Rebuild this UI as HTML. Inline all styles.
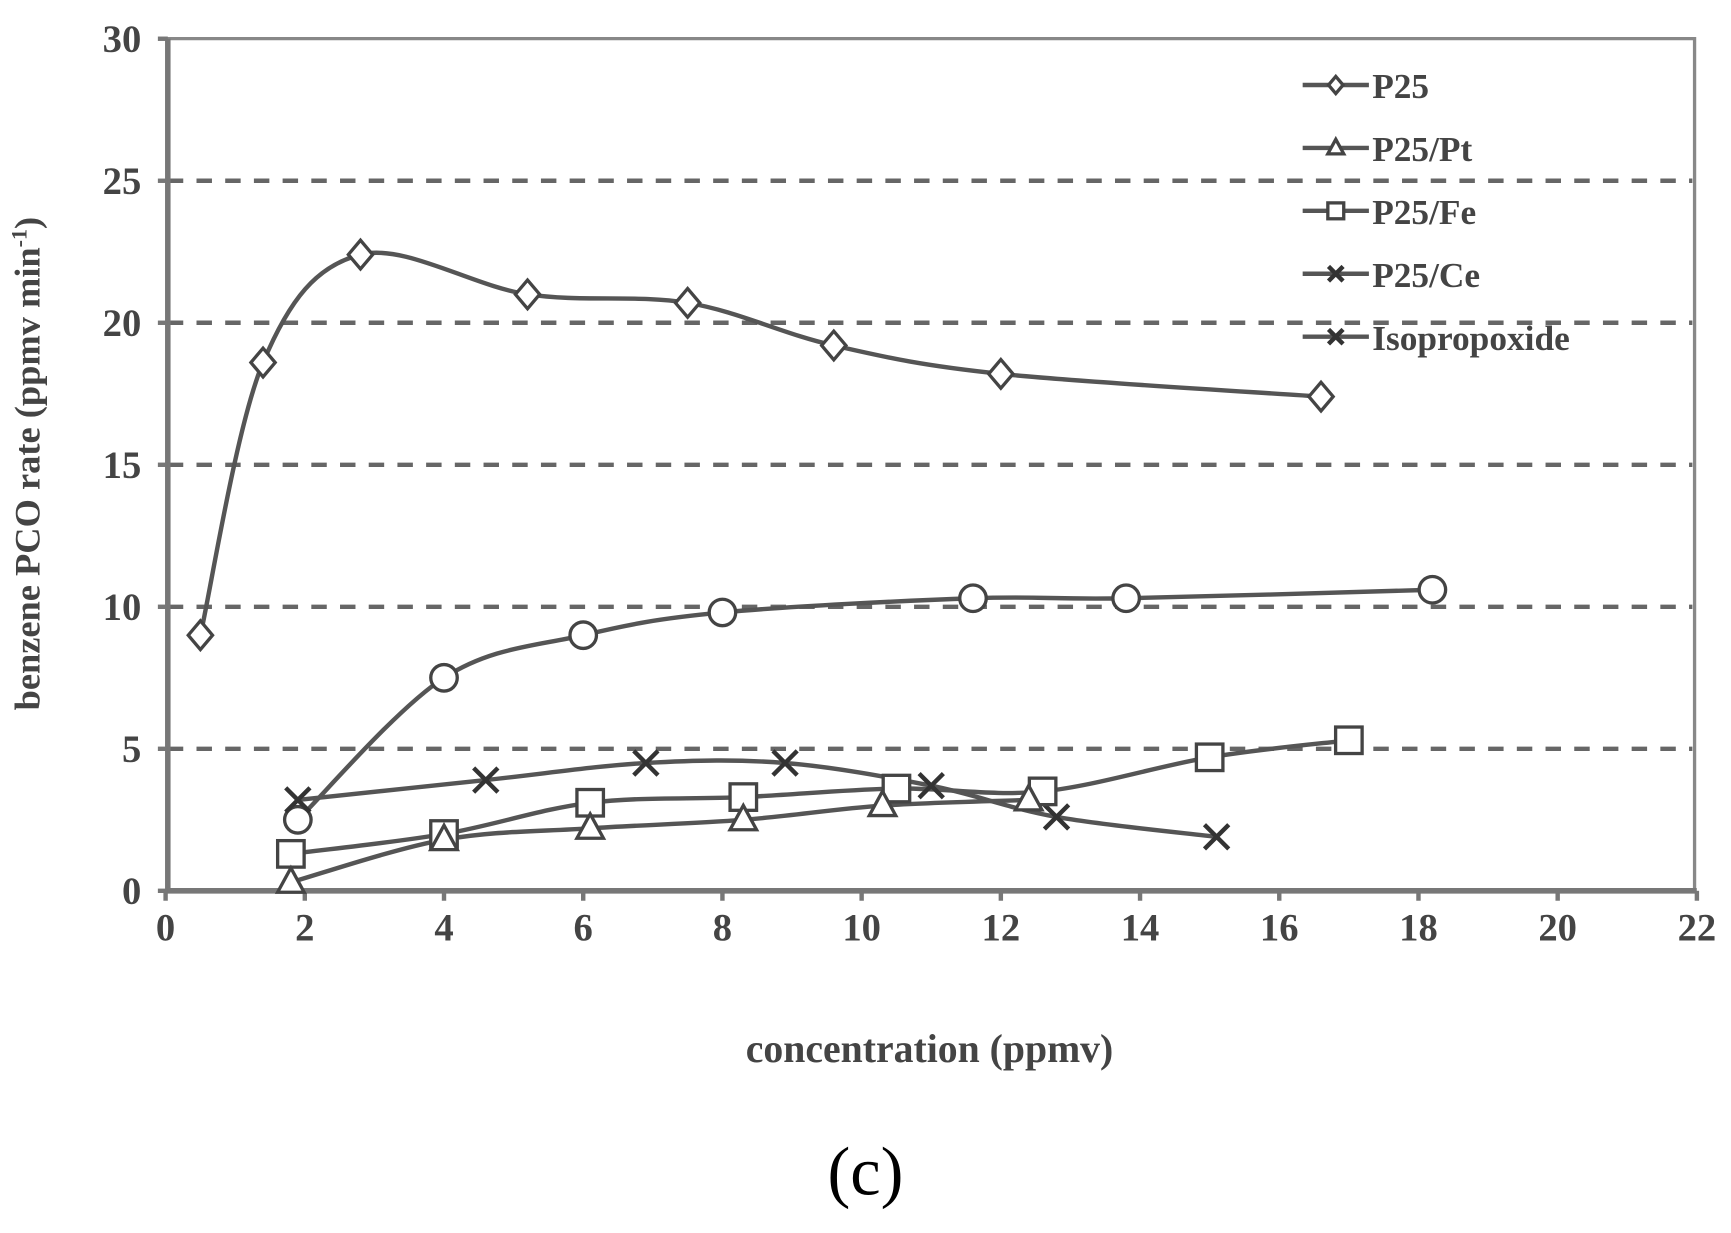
<!DOCTYPE html>
<html><head><meta charset="utf-8"><style>
html,body{margin:0;padding:0;background:#fff;}
svg{display:block;}
</style></head><body>
<svg id="s" width="1731" height="1233" viewBox="0 0 1568 1117" preserveAspectRatio="none" xmlns="http://www.w3.org/2000/svg" font-family="Liberation Serif, serif" font-weight="bold">
</svg>
<script>
const s=document.getElementById('s');
const X=v=>150+63.05*v, Y=v=>807-25.73*v;
let h='';
for(let g=5;g<=25;g+=5){h+=`<line x1="152" x2="1533" y1="${Y(g)}" y2="${Y(g)}" stroke="#666" stroke-width="4" stroke-dasharray="14,12"/>`;}
h+=`<path d="M150 35 H1535 V807" fill="none" stroke="#888" stroke-width="3"/>`;
h+=`<line x1="152" y1="35" x2="152" y2="808" stroke="#777" stroke-width="5"/>`;
h+=`<line x1="150" y1="807" x2="1537" y2="807" stroke="#777" stroke-width="5"/>`;
for(let g=0;g<=30;g+=5){h+=`<line x1="143" x2="152" y1="${Y(g)}" y2="${Y(g)}" stroke="#777" stroke-width="4"/>`;
 h+=`<text x="128" y="${Y(g)+12}" font-size="35" text-anchor="end" fill="#444">${g}</text>`;}
for(let g=0;g<=22;g+=2){h+=`<line x1="${X(g)}" x2="${X(g)}" y1="807" y2="816" stroke="#777" stroke-width="4"/>`;
 h+=`<text x="${X(g)}" y="852" font-size="35" text-anchor="middle" fill="#444">${g}</text>`;}
h+=`<text x="842" y="962" font-size="36" text-anchor="middle" fill="#444">concentration (ppmv)</text>`;
h+=`<text transform="translate(36,420) rotate(-90)" font-size="33" text-anchor="middle" fill="#444">benzene PCO rate (ppmv min<tspan dy="-12" font-size="20">-1</tspan><tspan dy="12">)</tspan></text>`;
h+=`<text x="784" y="1082" font-size="62" font-weight="normal" text-anchor="middle" fill="#000">(c)</text>`;
function curve(pts){let p=pts.map(a=>[X(a[0]),Y(a[1])]);let d=`M${p[0][0]} ${p[0][1]}`;
 for(let i=0;i<p.length-1;i++){const p0=p[i-1]||p[i],p1=p[i],p2=p[i+1],p3=p[i+2]||p2;const t=6;
 d+=` C${p1[0]+(p2[0]-p0[0])/t} ${p1[1]+(p2[1]-p0[1])/t} ${p2[0]-(p3[0]-p1[0])/t} ${p2[1]-(p3[1]-p1[1])/t} ${p2[0]} ${p2[1]}`;}
 return `<path d="${d}" fill="none" stroke="#555" stroke-width="4"/>`;}
function mk(t,x,y,r){r=r||1;const st='fill="#fff" stroke="#444" stroke-width="3"';
 if(t=='d')return `<polygon points="${x},${y-13*r} ${x+11*r},${y} ${x},${y+13*r} ${x-11*r},${y}" ${st}/>`;
 if(t=='o')return `<circle cx="${x}" cy="${y}" r="${12*r}" ${st}/>`;
 if(t=='s')return `<rect x="${x-12*r}" y="${y-12*r}" width="${24*r}" height="${24*r}" ${st}/>`;
 if(t=='t')return `<polygon points="${x},${y-13*r} ${x+12*r},${y+9*r} ${x-12*r},${y+9*r}" ${st}/>`;
 if(t=='x')return `<path d="M${x-11*r} ${y-11*r}L${x+11*r} ${y+11*r}M${x+11*r} ${y-11*r}L${x-11*r} ${y+11*r}" stroke="#333" stroke-width="4"/>`;}
const D={
d:[[0.5,9],[1.4,18.6],[2.8,22.4],[5.2,21],[7.5,20.7],[9.6,19.2],[12,18.2],[16.6,17.4]],
o:[[1.9,2.5],[4,7.5],[6,9],[8,9.8],[11.6,10.3],[13.8,10.3],[18.2,10.6]],
x:[[1.9,3.2],[4.6,3.9],[6.9,4.5],[8.9,4.5],[11,3.7],[12.8,2.6],[15.1,1.9]],
s:[[1.8,1.3],[4,2],[6.1,3.1],[8.3,3.3],[10.5,3.6],[12.6,3.5],[15,4.7],[17,5.3]],
t:[[1.8,0.3],[4,1.8],[6.1,2.2],[8.3,2.5],[10.3,3],[12.4,3.2]]};
for(const k in D){h+=curve(D[k]);}
for(const k in D){D[k].forEach(a=>h+=mk(k,X(a[0]),Y(a[1])));}
const L=['P25','P25/Pt','P25/Fe','P25/Ce','Isopropoxide'];const LM=['d','t','s','x','x'];
L.forEach((n,i)=>{const y=77+i*57;h+=`<line x1="1180" x2="1240" y1="${y}" y2="${y}" stroke="#555" stroke-width="4"/>`;
 h+=mk(LM[i],1210,y,0.6);
 h+=`<text x="1243" y="${y+12}" font-size="32" fill="#444">${n}</text>`;});
s.innerHTML=h;
</script>
</body></html>
